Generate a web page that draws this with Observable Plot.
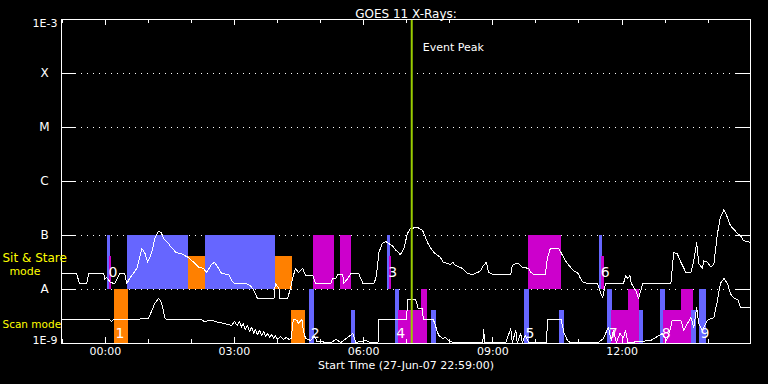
<!DOCTYPE html>
<html><head><meta charset="utf-8">
<script src="https://cdn.jsdelivr.net/npm/d3@7"></script>
<script src="https://cdn.jsdelivr.net/npm/@observablehq/plot@0.6"></script>
<style>html,body{margin:0;padding:0;background:#000;}</style>
</head><body><div id="chart"></div>
<script>
// ---------- texts & axes ----------
const title = "GOES 11 X-Rays:";
const xTitle = "Start Time (27-Jun-07 22:59:00)";
const timeDomain = ["22:59", "14:59"];
const majorTicks = ["00:00", "03:00", "06:00", "09:00", "12:00"];
const minorTicks = ["23:00", "01:00", "02:00", "04:00", "05:00", "07:00", "08:00", "10:00", "11:00", "13:00", "14:00"];
const levelFlux = [1e-3, 1e-4, 1e-5, 1e-6, 1e-7, 1e-8, 1e-9];
const levelLabels = ["1E-3", "X", "M", "C", "B", "A", "1E-9"];
const eventPeak = "07:07";
const eventLabel = "Event Peak";
const sitLabel = ["Sit & Stare", "mode"];
const scanLabel = "Scan mode";

// ---------- GOES long channel (1-8 A) ----------
const longTimes = ["22:59","23:20","23:24","23:34","23:37","23:58","23:59","00:02","00:07","00:13","00:17","00:20","00:27","00:30","00:34","00:39","00:44","00:51","00:55","00:59","01:02","01:06","01:09","01:14","01:18","01:21","01:28","01:32","01:39","01:46","01:53","01:56","02:03","02:10","02:17","02:21","02:28","02:32","02:38","02:42","02:52","02:56","03:00","03:16","03:22","03:27","03:32","03:55","03:57","04:02","04:03","04:14","04:18","04:21","04:25","04:29","04:35","04:39","04:49","04:53","05:14","05:17","05:21","05:24","05:31","05:32","05:38","05:42","05:53","05:59","06:14","06:17","06:19","06:21","06:26","06:31","06:35","06:40","06:45","06:49","06:51","06:56","07:01","07:05","07:15","07:22","07:24","07:29","07:34","07:38","07:47","07:51","08:01","08:04","08:08","08:18","08:25","08:32","08:39","08:43","08:47","08:51","08:54","09:00","09:25","09:27","09:32","09:36","09:41","09:50","09:53","09:57","10:13","10:16","10:20","10:32","10:37","10:41","10:48","10:52","10:59","11:02","11:06","11:13","11:26","11:30","11:33","11:37","12:02","12:05","12:08","12:11","12:13","12:19","12:23","12:29","13:08","13:12","13:17","13:22","13:29","13:36","13:40","13:44","13:47","13:52","13:54","13:59","14:04","14:08","14:13","14:17","14:22","14:27","14:31","14:41","14:45","14:49","14:59"];
const longFlux = [1.98e-8,1.98e-8,1.29e-8,1.29e-8,1.98e-8,1.98e-8,1.53e-8,1.67e-8,1.35e-8,1.29e-8,1.6e-8,1.98e-8,1.98e-8,1.29e-8,1.6e-8,1.98e-8,2.45e-8,5.7e-8,4.8e-8,3.2e-8,3.9e-8,5.7e-8,8.8e-8,1.19e-7,1.14e-7,8.8e-8,7.1e-8,6.0e-8,4.8e-8,4.6e-8,4.1e-8,3.9e-8,3.2e-8,2.6e-8,2.45e-8,2.07e-8,2.9e-8,3.2e-8,2.45e-8,1.98e-8,1.9e-8,1.47e-8,1.29e-8,1.29e-8,1.19e-8,9.6e-9,6.8e-9,6.8e-9,1.29e-8,1.04e-8,6.8e-9,6.8e-9,1.04e-8,1.6e-8,2.45e-8,2.07e-8,2.45e-8,1.82e-8,1.82e-8,1.29e-8,1.29e-8,1.6e-8,1.6e-8,1.9e-8,1.9e-8,1.29e-8,1.6e-8,1.98e-8,1.98e-8,1.29e-8,1.29e-8,1.6e-8,2.45e-8,4.8e-8,7.1e-8,7.7e-8,7.1e-8,6.5e-8,5.3e-8,4.8e-8,4.4e-8,5.7e-8,1.09e-7,1.35e-7,1.41e-7,1.24e-7,1.09e-7,7.4e-8,5.7e-8,4.8e-8,3.9e-8,3.2e-8,2.9e-8,3.2e-8,2.8e-8,2.45e-8,1.98e-8,1.9e-8,2.07e-8,2.25e-8,2.8e-8,3.2e-8,2.07e-8,1.9e-8,1.9e-8,2.8e-8,3.0e-8,3.0e-8,2.6e-8,2.45e-8,2.07e-8,1.9e-8,1.9e-8,3.8e-8,5.7e-8,5.7e-8,4.3e-8,3.4e-8,2.6e-8,2.25e-8,1.98e-8,1.6e-8,1.35e-8,1.29e-8,1.29e-8,8.8e-9,7.1e-9,1.29e-8,1.29e-8,1.82e-8,1.6e-8,1.82e-8,1.29e-8,9.6e-9,6.8e-9,1.29e-8,1.29e-8,4.8e-8,4.6e-8,3.2e-8,2.07e-8,2.07e-8,3.4e-8,7.4e-8,3.0e-8,2.45e-8,3.4e-8,3.2e-8,2.6e-8,3.0e-8,1.09e-7,2.15e-7,3.0e-7,2.15e-7,1.53e-7,1.09e-7,1.0e-7,8.1e-8,7.4e-8];

// ---------- GOES short channel (0.5-4 A) ----------
const shortTimes = ["22:59","00:06","00:09","00:12","00:47","00:51","01:00","01:05","01:09","01:14","01:17","01:20","01:23","01:25","02:14","02:18","02:27","02:38","02:46","02:56","03:00","03:04","03:07","03:10","03:12","03:15","03:18","03:21","03:24","03:27","03:29","03:32","03:35","03:38","03:41","03:43","03:46","03:49","03:52","03:55","03:57","04:00","04:04","04:08","04:12","04:16","04:19","04:22","04:27","04:29","04:34","04:36","04:39","04:46","04:52","04:55","05:14","05:22","05:28","05:45","05:49","06:03","06:09","06:20","06:21","07:00","07:01","07:12","07:15","07:16","07:22","07:23","07:37","07:40","07:43","07:45","07:50","07:54","07:58","08:05","08:46","08:47","08:49","09:18","09:25","09:27","09:32","09:34","09:39","09:41","09:45","09:50","10:15","10:16","10:35","10:39","10:44","10:48","11:27","11:34","11:41","11:45","11:48","11:52","11:57","12:02","12:05","12:08","12:26","12:40","12:56","13:02","13:08","13:10","13:22","13:26","13:31","13:36","13:40","13:44","13:47","13:52","13:59","14:04","14:08","14:13","14:17","14:22","14:27","14:31","14:35","14:42","14:45","14:59"];
const shortFlux = [2.8e-9,2.8e-9,2.55e-9,2.8e-9,2.8e-9,2.9e-9,2.9e-9,4.1e-9,5.5e-9,6.8e-9,6.3e-9,4.6e-9,3.0e-9,2.8e-9,2.8e-9,2.55e-9,2.7e-9,2.45e-9,2.35e-9,2.15e-9,2.55e-9,2.15e-9,2.55e-9,2.0e-9,2.35e-9,1.8e-9,2.15e-9,1.67e-9,2.0e-9,1.53e-9,1.8e-9,1.47e-9,1.74e-9,1.4e-9,1.67e-9,1.35e-9,1.53e-9,1.29e-9,1.47e-9,1.24e-9,1.4e-9,1.19e-9,1.35e-9,1.19e-9,1.29e-9,1.19e-9,1.24e-9,2.8e-9,2.7e-9,2.35e-9,2.8e-9,1.74e-9,1.24e-9,1.14e-9,1.35e-9,1.09e-9,1.04e-9,1.19e-9,1.04e-9,1.53e-9,1.04e-9,1.14e-9,1.04e-9,1.04e-9,2.8e-9,2.8e-9,6.5e-9,6.5e-9,5.1e-9,4.4e-9,4.4e-9,2.8e-9,2.8e-9,2.15e-9,1.6e-9,1.4e-9,1.24e-9,1.29e-9,1.14e-9,1.04e-9,1.04e-9,1.8e-9,1.04e-9,1.04e-9,1.9e-9,1.04e-9,1.74e-9,1.04e-9,1.53e-9,1.04e-9,1.4e-9,1.04e-9,1.04e-9,2.8e-9,2.8e-9,1.6e-9,1.14e-9,1.04e-9,1.04e-9,1.24e-9,2.0e-9,1.14e-9,1.74e-9,1.04e-9,1.53e-9,1.29e-9,1.74e-9,1.04e-9,1.09e-9,1.14e-9,1.53e-9,1.14e-9,2.0e-9,2.7e-9,2.7e-9,1.74e-9,2.35e-9,3.0e-9,2.0e-9,4.6e-9,2.35e-9,1.74e-9,2.7e-9,2.9e-9,3.0e-9,6.3e-9,1.29e-8,1.6e-8,1.29e-8,8.4e-9,7.1e-9,6.3e-9,4.6e-9,4.6e-9];

// ---------- observation bands ----------
const studyKinds = ["study1", "study2", "study3"];
const sitFloor = 1e-8, sitCeil = 1e-7;   // Sit & Stare band (A..B)
const scanFloor = 1e-9, scanCeil = 1e-8; // Scan band (1E-9..A)
const sitKind  = ["study1","study3","study1","study2","study1","study2","study3","study3","study1","study3","study3","study1","study3"];
const sitStart = ["00:03","00:06","00:31","01:56","02:20","03:57","04:50","05:28","06:33","06:36","09:50","11:29","11:32"];
const sitEnd   = ["00:07","00:09","01:56","02:20","03:57","04:21","05:19","05:43","06:37","06:39","10:35","11:33","11:35"];
const sitTop   = [1e-7,4.1e-8,1e-7,4.1e-8,1e-7,4.1e-8,1e-7,1e-7,1e-7,4.1e-8,1e-7,1e-7,4.1e-8];
const scanKind  = ["study2","study2","study1","study1","study1","study3","study3","study1","study1","study1","study1","study3","study3","study1","study1","study3","study3","study1","study1"];
const scanStart = ["00:13","04:20","04:45","05:43","06:44","06:49","07:21","07:35","09:44","10:33","11:40","11:46","12:09","12:25","12:54","12:58","13:23","13:37","13:48"];
const scanEnd   = ["00:32","04:39","04:52","05:49","06:50","07:29","07:29","07:42","09:51","10:40","11:47","12:25","12:25","12:30","13:00","13:39","13:39","13:44","13:58"];
const scanTop   = [1e-8,4.1e-9,1e-8,4.1e-9,1e-8,4.1e-9,1e-8,4.1e-9,1e-8,4.1e-9,1e-8,4.1e-9,1e-8,4.1e-9,1e-8,4.1e-9,1e-8,4.1e-9,1e-8];

// ---------- numbered observations ----------
const numText = ["0","1","2","3","4","5","6","7","8","9"];
const numTime = ["00:03","00:13","04:45","06:33","06:44","09:44","11:29","11:40","12:54","13:48"];
const numBand = ["sit","scan","scan","sit","scan","scan","sit","scan","scan","scan"];

// ---------- build ----------
const parseT = s => { const [h, m] = s.split(":").map(Number); return new Date(Date.UTC(2007, 5, h >= 22 ? 27 : 28, h, m)); };
const fmt = d3.utcFormat("%H:%M");
const longData = longTimes.map((t, i) => ({t: parseT(t), f: longFlux[i]}));
const shortData = shortTimes.map((t, i) => ({t: parseT(t), f: shortFlux[i]}));
const sitRects = sitStart.map((s, i) => ({x1: parseT(s), x2: parseT(sitEnd[i]), y1: sitFloor, y2: sitTop[i], kind: sitKind[i]}));
const scanRects = scanStart.map((s, i) => ({x1: parseT(s), x2: parseT(scanEnd[i]), y1: scanFloor, y2: scanTop[i], kind: scanKind[i]}));
const nums = numText.map((n, i) => ({n, t: parseT(numTime[i]), band: numBand[i]}));
const levels = levelFlux.map((f, i) => ({f, label: levelLabels[i]}));
const gridLevels = levelFlux.slice(1, -1);
const majors = majorTicks.map(parseT), minors = minorTicks.map(parseT);

const W = 768, H = 384, mL = 61, mR = 18, mT = 19, mB = 41;
const iW = W - mL - mR, iH = H - mT - mB;
const white = "#ffffff", yellow = "#ffff00";

const chart = Plot.plot({
  width: W, height: H,
  marginLeft: mL, marginRight: mR, marginTop: mT, marginBottom: mB,
  style: {background: "#000", color: white, fontFamily: "DejaVu Sans", fontSize: "11px"},
  x: {type: "utc", domain: timeDomain.map(parseT), axis: null},
  y: {type: "log", domain: [1e-9, 1e-3], axis: null},
  color: {domain: studyKinds, range: ["#6666ff", "#ff8000", "#cc00cc"]},
  marks: [
    Plot.tickY(gridLevels, {y: d => d, stroke: white, strokeDasharray: "1,5", insetLeft: 14, insetRight: 14, shapeRendering: "crispEdges"}),
    Plot.rect(sitRects, {x1: "x1", x2: "x2", y1: "y1", y2: "y2", fill: "kind", shapeRendering: "crispEdges"}),
    Plot.rect(scanRects, {x1: "x1", x2: "x2", y1: "y1", y2: "y2", fill: "kind", shapeRendering: "crispEdges"}),
    Plot.line(longData, {x: "t", y: "f", stroke: white, strokeWidth: 1, shapeRendering: "crispEdges"}),
    Plot.line(shortData, {x: "t", y: "f", stroke: white, strokeWidth: 1, shapeRendering: "crispEdges"}),
    Plot.text(nums.filter(d => d.band === "sit"), {x: "t", y: () => sitFloor, text: "n", dx: 1, dy: -17, textAnchor: "start", fill: white, fontSize: 14}),
    Plot.text(nums.filter(d => d.band === "scan"), {x: "t", y: () => scanFloor, text: "n", dx: 1, dy: -10, textAnchor: "start", fill: white, fontSize: 14}),
    Plot.ruleX([parseT(eventPeak)], {x: d => d, stroke: "#99cc00", strokeWidth: 2}),
    Plot.text([eventLabel], {x: () => parseT(eventPeak), frameAnchor: "top", dx: 11, dy: 24, textAnchor: "start", fill: white}),
    // y ticks, inward on both sides
    Plot.tickY(levelFlux, {y: d => d, stroke: white, insetRight: iW - 14, shapeRendering: "crispEdges"}),
    Plot.tickY(levelFlux, {y: d => d, stroke: white, insetLeft: iW - 14, shapeRendering: "crispEdges"}),
    // x ticks, inward on top and bottom
    Plot.tickX(majors, {x: d => d, stroke: white, insetTop: iH - 6, shapeRendering: "crispEdges"}),
    Plot.tickX(majors, {x: d => d, stroke: white, insetBottom: iH - 6, shapeRendering: "crispEdges"}),
    Plot.tickX(minors, {x: d => d, stroke: white, insetTop: iH - 4, shapeRendering: "crispEdges"}),
    Plot.tickX(minors, {x: d => d, stroke: white, insetBottom: iH - 4, shapeRendering: "crispEdges"}),
    Plot.frame({stroke: white, shapeRendering: "crispEdges"}),
    // tick labels
    Plot.text(majors, {x: d => d, text: d => fmt(d), frameAnchor: "bottom", dy: 11, fill: white}),
    Plot.text([xTitle], {frameAnchor: "bottom", dy: 25, fill: white}),
    Plot.text([title], {frameAnchor: "top", dy: -10, fill: white, fontSize: 12, letterSpacing: "0.5px"}),
    Plot.text(levels.slice(1, -1), {y: "f", text: "label", frameAnchor: "left", dx: -17, textAnchor: "middle", fill: white, fontSize: 12}),
    Plot.text(levels.slice(0, 1), {y: "f", text: "label", frameAnchor: "left", dx: -4, dy: 4, textAnchor: "end", fill: white}),
    Plot.text(levels.slice(-1), {y: "f", text: "label", frameAnchor: "left", dx: -4, dy: -3.5, textAnchor: "end", fill: white}),
    // mode labels
    Plot.text([sitLabel[0]], {y: () => 3.75e-8, frameAnchor: "left", dx: -59, textAnchor: "start", fill: yellow, fontSize: 12}),
    Plot.text([sitLabel[1]], {y: () => 2.15e-8, frameAnchor: "left", dx: -36.5, textAnchor: "middle", fill: yellow, fontSize: 11}),
    Plot.text([scanLabel], {y: () => 2.25e-9, frameAnchor: "left", dx: -59, textAnchor: "start", fill: yellow, fontSize: 10.5})
  ]
});
document.getElementById("chart").appendChild(chart);
</script>
</body></html>
